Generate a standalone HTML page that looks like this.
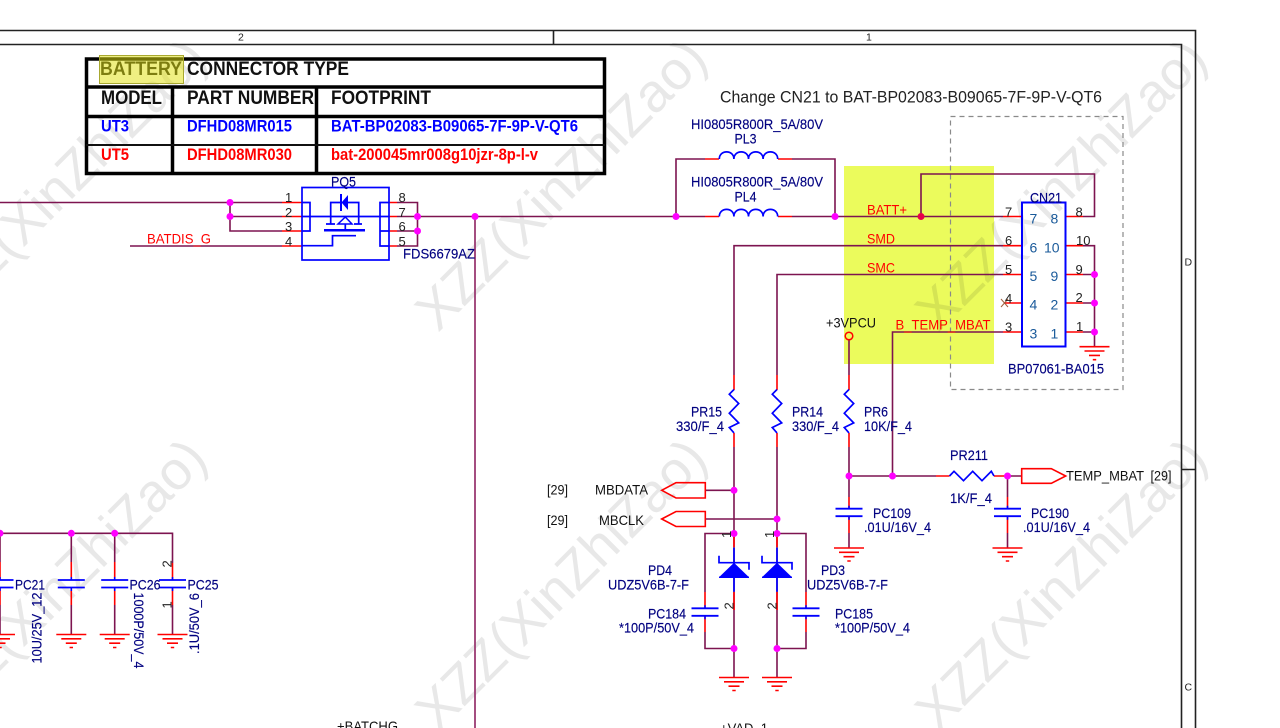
<!DOCTYPE html>
<html><head><meta charset="utf-8"><style>
html,body{margin:0;padding:0;background:#fff;width:1280px;height:728px;overflow:hidden}
svg{display:block;filter:blur(.3px)}
text{font-family:"Liberation Sans",sans-serif;font-size:14px;white-space:pre}
.n{fill:#000080;stroke:#000080;stroke-width:.15}.k{fill:#111}.r{fill:#f00}.b{fill:#00f}.s{fill:#1a5a9a}
.tb{font-weight:bold;font-size:19px}.ts{font-weight:bold;font-size:16.500px}
.p{font-size:13px;fill:#222}
.w{fill:none;stroke:#7d1450;stroke-width:1.6}
.e{fill:none;stroke:#f00;stroke-width:1.6}
.u{fill:none;stroke:#00f;stroke-width:1.7}
.wm{font-size:54px;fill:#e8e8e8}
</style></head><body>
<svg width="1280" height="728" viewBox="0 0 1280 728" xmlns="http://www.w3.org/2000/svg">
<defs>
<g id="gnd"><path class="e" d="M-15 0H15M-10 4.300H10M-5.500 8.700H5.500M-1.700 13H1.700"/></g>
<g id="capv"><path d="M-13.500 0H13.500M-13.500 7.500H13.500" stroke="#00f" stroke-width="1.800" fill="none"/><path d="M0 -3V0M0 7.500V11" stroke="#00f" stroke-width="1.500"/></g>
<path id="res" class="u" d="M0 0L-4.700 4.700L4.700 14L-4.700 23.700L4.700 33.400L-4.700 38L0 43.400"/>
<g id="coil"><path class="u" d="M0 7.500C0 -2 14.600 -2 14.600 7.500C14.600 -2 29.200 -2 29.200 7.500C29.200 -2 43.800 -2 43.800 7.500C43.800 -2 58.400 -2 58.400 7.500"/></g>
<g id="zen"><path d="M-15 29.500L0 15L15 29.500Z" fill="#00f"/><path class="u" d="M0 0V44M-15 8V15H15V22"/><path d="M-15 29.500H15" stroke="#00f" stroke-width="1.500"/></g>
</defs>
<rect width="1280" height="728" fill="#fff"/>

<!-- watermark -->
<text class="wm" transform="translate(-62 333) rotate(-45)">XZZ(XinZhiZao)</text>
<text class="wm" transform="translate(438 333) rotate(-45)">XZZ(XinZhiZao)</text>
<text class="wm" transform="translate(938 333) rotate(-45)">XZZ(XinZhiZao)</text>
<text class="wm" transform="translate(-62 733) rotate(-45)">XZZ(XinZhiZao)</text>
<text class="wm" transform="translate(438 733) rotate(-45)">XZZ(XinZhiZao)</text>
<text class="wm" transform="translate(938 733) rotate(-45)">XZZ(XinZhiZao)</text>

<!-- yellow highlight -->
<rect x="844" y="166" width="150" height="198" fill="#ebfb5c" style="mix-blend-mode:multiply"/>

<!-- frame -->
<path d="M0 30.500H1195.500V728M0 44.500H1181.500V728M553.500 30V44M1181 469.500H1195" fill="none" stroke="#222" stroke-width="1.600"/>
<text class="p" style="font-size:10.500px" x="238" y="40.500">2</text>
<text class="p" style="font-size:10.500px" x="866" y="40.500">1</text>
<text class="p" style="font-size:10.500px" x="1184.500" y="265.500">D</text>
<text class="p" style="font-size:10.500px" x="1184.500" y="690.500">C</text>

<!-- table -->
<path d="M86.500 59H604.500V173.500H86.500ZM86 87H605M86 116.500H605M172.500 87V173M316.500 87V173" fill="none" stroke="#000" stroke-width="3.500"/>
<path d="M86 145H605" stroke="#111" stroke-width="2"/>
<text class="tb k" x="100" y="75" textLength="82" lengthAdjust="spacingAndGlyphs">BATTERY</text>
<text class="tb k" x="187" y="75" textLength="162" lengthAdjust="spacingAndGlyphs">CONNECTOR TYPE</text>
<text class="tb k" x="101" y="104" textLength="61" lengthAdjust="spacingAndGlyphs">MODEL</text>
<text class="tb k" x="187" y="104" textLength="127" lengthAdjust="spacingAndGlyphs">PART NUMBER</text>
<text class="tb k" x="331" y="104" textLength="100" lengthAdjust="spacingAndGlyphs">FOOTPRINT</text>
<text class="ts b" x="101" y="131.500" textLength="28" lengthAdjust="spacingAndGlyphs">UT3</text>
<text class="ts b" x="187" y="131.500" textLength="105" lengthAdjust="spacingAndGlyphs">DFHD08MR015</text>
<text class="ts b" x="331" y="131.500" textLength="247" lengthAdjust="spacingAndGlyphs">BAT-BP02083-B09065-7F-9P-V-QT6</text>
<text class="ts r" x="101" y="160" textLength="28" lengthAdjust="spacingAndGlyphs">UT5</text>
<text class="ts r" x="187" y="160" textLength="105" lengthAdjust="spacingAndGlyphs">DFHD08MR030</text>
<text class="ts r" x="331" y="160" textLength="207" lengthAdjust="spacingAndGlyphs">bat-200045mr008g10jzr-8p-l-v</text>
<rect x="99.500" y="55.500" width="84" height="28" fill="#e0e010" fill-opacity=".52" stroke="#a8a830" stroke-width="1"/>

<text x="720" y="102.500" fill="#222" style="font-size:16.500px" textLength="382" lengthAdjust="spacingAndGlyphs">Change CN21 to BAT-BP02083-B09065-7F-9P-V-QT6</text>

<!-- dashed CN21 boundary -->
<rect x="950.500" y="116.500" width="172.500" height="273" fill="none" stroke="#8a8a8a" stroke-width="1.200" stroke-dasharray="5 4"/>

<!-- wires -->
<path class="w" d="M0 202.500H282M230 202.500V231H282M230 216.500H282M130 246H282"/>
<path class="w" d="M397 202.500H417.500V246H397M417.500 216.500H705M397 216.500H417M397 231H417"/>
<path d="M475 216.500V728" fill="none" stroke="#9a3a72" stroke-width="1.800"/>
<path class="w" d="M705 159H676V216.500M792 159H835V216.500M792 216.500H1003"/>
<path class="w" d="M921 216.500V174H1094.500V216.500H1083"/>
<path class="w" d="M1003 245.700H734V375M1003 274.500H777V375M1003 332H892.500V476"/>
<path class="w" d="M1083 245.700H1094.500V346.500M1083 274.500H1094.500M1083 303H1094.500M1083 332H1094.500"/>
<path class="w" d="M849 340V375M734 447V677M777 447V677M849 447V497M849 533V548"/>
<path class="w" d="M849 476H936M1007.500 476H1022M1007.500 476V497M1007.500 533V548"/>
<path class="w" d="M705 490.300H734M705 519H777"/>
<path class="w" d="M734 533.500H705V592M705 632V648.500H734M777 533.500H806V592M806 632V648.500H777"/>
<path class="w" d="M0 533.300H172.500V563M71.300 533.300V562M114.700 533.300V562M71.300 605V634M114.700 605V634M172.500 605V634M0 533.300V562M0 605V634"/>

<!-- red pin stubs -->
<path class="e" d="M282 202.500H302M282 216.500H302M282 231H302M282 246H302M389 202.500H397M389 216.500H397M389 231H397M389 246H397"/>
<path class="e" d="M705 159H719M778 159H792M705 216.500H719M778 216.500H792"/>
<path class="e" d="M1003 216.500H1022M1003 245.700H1022M1003 274.500H1022M1004 303H1022M1003 332H1022M1065.500 216.500H1083M1065.500 245.700H1083M1065.500 274.500H1083M1065.500 303H1083M1065.500 332H1083"/>
<path class="e" d="M734 375V390M777 375V390M849 375V390M734 433V447M777 433V447M849 433V447"/>
<path class="e" d="M849 497V509M849 516V533M1007.500 497V509M1007.500 516V533M936 476H949.500M994 476H1007.500"/>
<path class="e" d="M705 592V608M705 616V632M806 592V608M806 616V632M734 592V610M777 592V610M734 547V533M777 547V533"/>
<path class="e" d="M0 562V580M0 587V605M71.300 562V580M71.300 587V605M114.700 562V580M114.700 587V605M172.500 563V580M172.500 587V605"/>
<path d="M1001 299L1008 307M1008 299L1001 307" stroke="#a06040" stroke-width="1" fill="none"/>

<!-- PQ5 -->
<rect x="302" y="187.500" width="87" height="72.500" class="u"/>
<path class="u" d="M302 202.500H310V231H302M302 216.500H389M389 202.500H380V246H389M380 231H389"/>
<path class="u" d="M302 245.700H332.500V235.700H356"/>
<path d="M324 230.300H365" stroke="#00f" stroke-width="2.500"/>
<path class="u" d="M330.700 224V202.500H341M348 202.500H358.700V224M326 224H335M354 224H362M345.300 224V230"/>
<path d="M345.300 217L338 224H352Z" fill="none" stroke="#00f" stroke-width="1.500"/>
<path d="M341 194V211" stroke="#00f" stroke-width="2"/>
<path d="M348 195V210L341.500 202.500Z" fill="#00f"/>

<!-- inductors -->
<use href="#coil" x="719.300" y="151.500"/>
<use href="#coil" x="719.300" y="209"/>

<!-- CN21 -->
<rect x="1022" y="202.500" width="43.500" height="144" fill="none" stroke="#00f" stroke-width="2"/>
<use href="#gnd" x="1094.500" y="346.700"/>

<!-- +3VPCU -->
<circle cx="849" cy="336" r="3.800" fill="none" stroke="#f00" stroke-width="1.500"/>

<!-- resistors -->
<use href="#res" x="734" y="389.500"/>
<use href="#res" x="777" y="389.500"/>
<use href="#res" x="849" y="389.500"/>
<path class="u" d="M949.500 476L954 471.300L963.500 480.700L972.700 471.300L982 480.700L991.300 471.300L994 476"/>

<!-- hier ports -->
<path d="M661.700 490.300L676 482.700H705.300V498H676Z" fill="none" stroke="#f00" stroke-width="1.600"/>
<path d="M661.700 519L676 511.500H705.300V526.500H676Z" fill="none" stroke="#f00" stroke-width="1.600"/>
<path d="M1021.700 468.700H1051.300L1065.700 476L1051.300 483.300H1021.700Z" fill="none" stroke="#f00" stroke-width="1.600"/>

<!-- diodes -->
<use href="#zen" x="734" y="547.700"/>
<use href="#zen" x="777" y="547.700"/>

<!-- caps -->
<use href="#capv" x="705" y="608.300"/>
<use href="#capv" x="806" y="608.300"/>
<use href="#capv" x="849" y="508.700"/>
<use href="#capv" x="1007.500" y="508.700"/>
<use href="#capv" x="0" y="580"/>
<use href="#capv" x="71.300" y="580"/>
<use href="#capv" x="114.700" y="580"/>
<use href="#capv" x="172.500" y="580"/>

<!-- grounds -->
<use href="#gnd" x="734" y="677.500"/>
<use href="#gnd" x="777" y="677.500"/>
<use href="#gnd" x="849" y="548"/>
<use href="#gnd" x="1007.500" y="548"/>
<use href="#gnd" x="0" y="634.500"/>
<use href="#gnd" x="71.300" y="634.500"/>
<use href="#gnd" x="114.700" y="634.500"/>
<use href="#gnd" x="172.500" y="634.500"/>

<!-- junctions -->
<g fill="#f0f">
<circle cx="230" cy="202.500" r="3.500"/><circle cx="230" cy="216.500" r="3.500"/>
<circle cx="417.500" cy="216.500" r="3.500"/><circle cx="417.500" cy="231" r="3.500"/>
<circle cx="475" cy="216.500" r="3.500"/><circle cx="676" cy="216.500" r="3.500"/><circle cx="835" cy="216.500" r="3.500"/>
<circle cx="1094.500" cy="274.500" r="3.500"/><circle cx="1094.500" cy="303" r="3.500"/><circle cx="1094.500" cy="332" r="3.500"/>
<circle cx="734" cy="490.300" r="3.500"/><circle cx="777" cy="519" r="3.500"/>
<circle cx="734" cy="533.500" r="3.500"/><circle cx="777" cy="533.500" r="3.500"/>
<circle cx="734" cy="648.500" r="3.500"/><circle cx="777" cy="648.500" r="3.500"/>
<circle cx="849" cy="476" r="3.500"/><circle cx="892.500" cy="476" r="3.500"/><circle cx="1007.500" cy="476" r="3.500"/>
<circle cx="0" cy="533.300" r="3.500"/><circle cx="71.300" cy="533.300" r="3.500"/><circle cx="114.700" cy="533.300" r="3.500"/>
</g>
<circle cx="921" cy="216.500" r="3.500" fill="#e8004a"/>

<!-- PQ5 labels -->
<text class="n" x="331" y="186.500" textLength="25" lengthAdjust="spacingAndGlyphs">PQ5</text>
<text class="n" x="403" y="258.500" textLength="72" lengthAdjust="spacingAndGlyphs">FDS6679AZ</text>
<text class="r" x="147" y="243.500" textLength="64" lengthAdjust="spacingAndGlyphs">BATDIS_G</text>
<text class="p" x="285" y="202">1</text><text class="p" x="285" y="217">2</text><text class="p" x="285" y="231">3</text><text class="p" x="285" y="246">4</text>
<text class="p" x="398.500" y="202">8</text><text class="p" x="398.500" y="217">7</text><text class="p" x="398.500" y="231">6</text><text class="p" x="398.500" y="246">5</text>

<!-- inductor labels -->
<text class="n" x="691" y="129" textLength="132" lengthAdjust="spacingAndGlyphs">HI0805R800R_5A/80V</text>
<text class="n" x="734.500" y="143.500" textLength="22" lengthAdjust="spacingAndGlyphs">PL3</text>
<text class="n" x="691" y="186.500" textLength="132" lengthAdjust="spacingAndGlyphs">HI0805R800R_5A/80V</text>
<text class="n" x="734.500" y="201.500" textLength="22" lengthAdjust="spacingAndGlyphs">PL4</text>

<!-- net labels -->
<text class="r" x="867" y="214.500" textLength="40" lengthAdjust="spacingAndGlyphs">BATT+</text>
<text class="r" x="867" y="243.500" textLength="28" lengthAdjust="spacingAndGlyphs">SMD</text>
<text class="r" x="867" y="272.500" textLength="28" lengthAdjust="spacingAndGlyphs">SMC</text>
<text class="r" x="895.500" y="329.500" textLength="95" lengthAdjust="spacingAndGlyphs">B_TEMP_MBAT</text>
<text class="k" x="826" y="327.500" textLength="50" lengthAdjust="spacingAndGlyphs">+3VPCU</text>

<!-- CN21 labels -->
<text class="n" x="1030" y="202.500" textLength="32" lengthAdjust="spacingAndGlyphs">CN21</text>
<text class="n" x="1008" y="373.500" textLength="96" lengthAdjust="spacingAndGlyphs">BP07061-BA015</text>
<text class="s" x="1029.500" y="223.500">7</text><text class="s" x="1050.500" y="223.500">8</text>
<text class="s" x="1029.500" y="252.500">6</text><text class="s" x="1044" y="252.500">10</text>
<text class="s" x="1029.500" y="281">5</text><text class="s" x="1050.500" y="281">9</text>
<text class="s" x="1029.500" y="309.500">4</text><text class="s" x="1050.500" y="309.500">2</text>
<text class="s" x="1029.500" y="338.500">3</text><text class="s" x="1050.500" y="338.500">1</text>
<text class="p" x="1005" y="216.500">7</text><text class="p" x="1005" y="245">6</text><text class="p" x="1005" y="274">5</text><text class="p" x="1005" y="303">4</text><text class="p" x="1005" y="331.500">3</text>
<text class="p" x="1075.500" y="216.500">8</text><text class="p" x="1076" y="245">10</text><text class="p" x="1075.500" y="274">9</text><text class="p" x="1075.500" y="302">2</text><text class="p" x="1076" y="331">1</text>

<!-- component labels -->
<text class="n" x="691" y="416.500" textLength="31" lengthAdjust="spacingAndGlyphs">PR15</text>
<text class="n" x="676" y="431" textLength="48" lengthAdjust="spacingAndGlyphs">330/F_4</text>
<text class="n" x="792" y="416.500" textLength="31" lengthAdjust="spacingAndGlyphs">PR14</text>
<text class="n" x="792" y="431" textLength="47" lengthAdjust="spacingAndGlyphs">330/F_4</text>
<text class="n" x="864" y="416.500" textLength="24" lengthAdjust="spacingAndGlyphs">PR6</text>
<text class="n" x="864" y="431" textLength="48" lengthAdjust="spacingAndGlyphs">10K/F_4</text>
<text class="n" x="950" y="460" textLength="38" lengthAdjust="spacingAndGlyphs">PR211</text>
<text class="n" x="950" y="503" textLength="42" lengthAdjust="spacingAndGlyphs">1K/F_4</text>
<text class="n" x="873" y="518" textLength="38" lengthAdjust="spacingAndGlyphs">PC109</text>
<text class="n" x="864" y="532" textLength="67" lengthAdjust="spacingAndGlyphs">.01U/16V_4</text>
<text class="n" x="1031" y="518" textLength="38" lengthAdjust="spacingAndGlyphs">PC190</text>
<text class="n" x="1023" y="532" textLength="67" lengthAdjust="spacingAndGlyphs">.01U/16V_4</text>
<text class="n" x="648" y="575" textLength="24" lengthAdjust="spacingAndGlyphs">PD4</text>
<text class="n" x="608" y="589.500" textLength="81" lengthAdjust="spacingAndGlyphs">UDZ5V6B-7-F</text>
<text class="n" x="821" y="575" textLength="24" lengthAdjust="spacingAndGlyphs">PD3</text>
<text class="n" x="807" y="589.500" textLength="81" lengthAdjust="spacingAndGlyphs">UDZ5V6B-7-F</text>
<text class="n" x="648" y="618.500" textLength="38" lengthAdjust="spacingAndGlyphs">PC184</text>
<text class="n" x="619" y="632.500" textLength="75" lengthAdjust="spacingAndGlyphs">*100P/50V_4</text>
<text class="n" x="835" y="618.500" textLength="38" lengthAdjust="spacingAndGlyphs">PC185</text>
<text class="n" x="835" y="632.500" textLength="75" lengthAdjust="spacingAndGlyphs">*100P/50V_4</text>
<text class="n" x="15" y="589.500" textLength="30" lengthAdjust="spacingAndGlyphs">PC21</text>
<text class="n" x="129.500" y="589.500" textLength="31" lengthAdjust="spacingAndGlyphs">PC26</text>
<text class="n" x="187.500" y="589.500" textLength="31" lengthAdjust="spacingAndGlyphs">PC25</text>
<text class="n" transform="translate(41.500 663.500) rotate(-90)" textLength="71" lengthAdjust="spacingAndGlyphs">10U/25V_12</text>
<text class="n" transform="translate(134 592.500) rotate(90)" textLength="76" lengthAdjust="spacingAndGlyphs">1000P/50V_4</text>
<text class="n" transform="translate(199 654) rotate(-90)" textLength="61" lengthAdjust="spacingAndGlyphs">.1U/50V_6</text>

<!-- rotated pin numbers -->
<text class="p" transform="translate(731 538) rotate(-90)">1</text>
<text class="p" transform="translate(774 538) rotate(-90)">1</text>
<text class="p" transform="translate(733.500 609.500) rotate(-90)">2</text>
<text class="p" transform="translate(776.500 609.500) rotate(-90)">2</text>
<text class="p" transform="translate(171.500 567.500) rotate(-90)">2</text>
<text class="p" transform="translate(171.500 608.500) rotate(-90)">1</text>

<!-- port labels -->
<text class="k" x="547" y="494.500" textLength="21" lengthAdjust="spacingAndGlyphs">[29]</text>
<text class="k" x="547" y="525" textLength="21" lengthAdjust="spacingAndGlyphs">[29]</text>
<text class="k" x="595" y="494.500" textLength="53" lengthAdjust="spacingAndGlyphs">MBDATA</text>
<text class="k" x="599" y="525" textLength="45" lengthAdjust="spacingAndGlyphs">MBCLK</text>
<text class="k" x="1066" y="480.500" textLength="78" lengthAdjust="spacingAndGlyphs">TEMP_MBAT</text>
<text class="k" x="1150.500" y="480.500" textLength="21" lengthAdjust="spacingAndGlyphs">[29]</text>
<text class="k" x="337" y="731" textLength="61" lengthAdjust="spacingAndGlyphs">+BATCHG</text>
<text class="k" x="720" y="733" textLength="48" lengthAdjust="spacingAndGlyphs">+VAD_1</text>
</svg>
</body></html>
